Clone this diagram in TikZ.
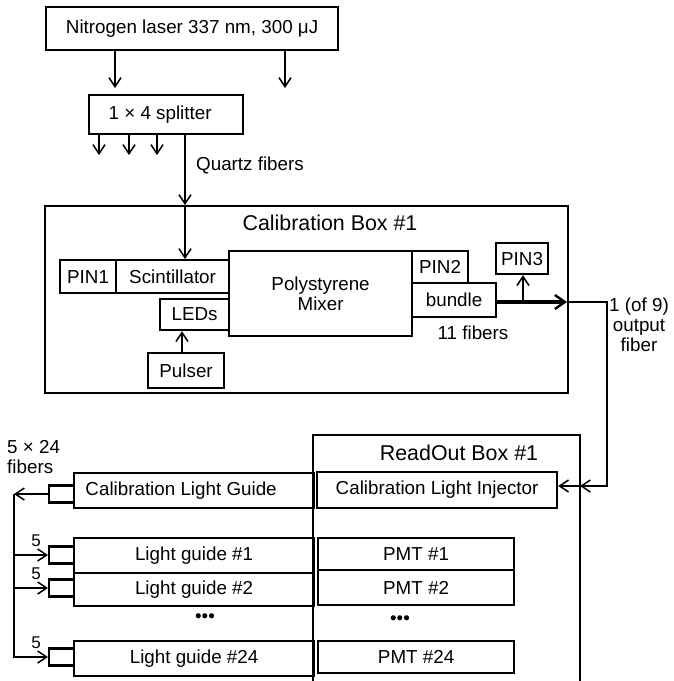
\documentclass[tikz,border=0pt]{standalone}
\usepackage{fontspec}
\setmainfont{Liberation Sans}
\usetikzlibrary{arrows.meta}
\begin{document}
\begin{tikzpicture}[x=1pt,y=-1pt,
  box/.style={draw,line width=2.2pt,inner sep=0pt,anchor=north west,font=\fontsize{18.8}{20}\selectfont},
  sbox/.style={draw,line width=2.2pt,inner sep=0pt,minimum width=25pt,minimum height=17pt,anchor=west},
  lbl/.style={inner sep=0pt,font=\fontsize{18.8}{20}\selectfont},
  slbl/.style={inner sep=0pt,font=\fontsize{17}{18}\selectfont},
  hdr/.style={inner sep=0pt,font=\fontsize{21.4}{24}\selectfont},
  tip/.style={-{Straight Barb[length=9pt,width=12pt,line width=1.5pt]}},
  arr/.style={line width=1.5pt,tip},
  ln/.style={line width=1.5pt}]
\useasboundingbox (0,0) rectangle (674,681);

% top
\node[box,minimum width=292pt,minimum height=43pt] (laser) at (45,6) {Nitrogen laser 337 nm, 300 μJ};
\node[box,minimum width=154pt,minimum height=39pt] (split) at (88,94) {1 × 4 splitter\hspace*{12pt}};

% calibration box
\node[box,minimum width=523pt,minimum height=187pt] (cal) at (44,205) {};
\node[hdr] (calt) at (330,223) {Calibration Box \#1};
\node[box,minimum width=56pt,minimum height=33pt] (pin1) at (59,259) {PIN1};
\node[box,minimum width=113pt,minimum height=33pt] (scint) at (115,259) {Scintillator};
\node[box,minimum width=183pt,minimum height=85pt,align=center] (mix) at (228,250) {Polystyrene\\Mixer};
\node[box,minimum width=69pt,minimum height=31pt] (leds) at (159,298) {LEDs};
\node[box,minimum width=76pt,minimum height=35pt] (pulser) at (147,352) {Pulser};
\node[box,minimum width=56pt,minimum height=32pt] (pin2) at (411,250) {PIN2};
\node[box,minimum width=84pt,minimum height=34pt] (bundle) at (411,282) {bundle};
\node[box,minimum width=52pt,minimum height=31pt] (pin3) at (495,242) {PIN3};
\node[lbl] (elf) at (473,333) {11 fibers};

% readout box
\coordinate (roBL) at (313,681);
\coordinate (roTL) at (313,435);
\coordinate (roTR) at (580,435);
\coordinate (roBR) at (580,681);
\draw[line width=2.2pt] (roBL) -- (roTL) -- (roTR) -- (roBR);
\node[hdr] (rot) at (459,453) {ReadOut Box \#1};
\node[box,minimum width=240pt,minimum height=36pt] (inj) at (316,471) {Calibration Light Injector};
\node[box,minimum width=196pt,minimum height=32pt] (pmt1) at (317,537) {PMT \#1};
\node[box,minimum width=196pt,minimum height=35pt] (pmt2) at (317,569) {PMT \#2};
\node[lbl] (dotsr) at (400,620) {•••};
\node[box,minimum width=196pt,minimum height=32pt] (pmt24) at (317,640) {PMT \#24};

% light guides
\node[box,minimum width=240pt,minimum height=35pt] (clg) at (73,472) {Calibration Light Guide\hspace*{26pt}};
\node[box,minimum width=240pt,minimum height=35pt] (lg1) at (73,537) {Light guide \#1};
\node[box,minimum width=240pt,minimum height=33pt] (lg2) at (73,572) {Light guide \#2};
\node[lbl] (dotsl) at (205,618) {•••};
\node[box,minimum width=240pt,minimum height=35pt] (lg24) at (73,640) {Light guide \#24};
\node[sbox] (cs0) at (48,494) {};
\node[sbox] (cs1) at (48,555) {};
\node[sbox] (cs2) at (48,588) {};
\node[sbox] (cs24) at (48,657) {};

% labels
\node[lbl,anchor=west] (qf) at (196,165) {Quartz fibers};
\node[lbl,align=center] (outl) at (639,325) {1 (of 9)\\output\\fiber};
\node[lbl,align=left,anchor=west] (fib) at (7,457) {5 × 24\\fibers};
\node[slbl] (n1) at (36,541) {5};
\node[slbl] (n2) at (36,574) {5};
\node[slbl] (n24) at (36,643) {5};

% connectors top
\coordinate (a1) at (115,88);
\coordinate (a2) at (285,88);
\draw[arr] (laser.south -| a1) -- (a1);
\draw[arr] (laser.south -| a2) -- (a2);
\foreach \x in {99,129,157} {
  \coordinate (s\x) at (\x,155);
  \draw[arr] (split.south -| s\x) -- (s\x);
}
\coordinate (q) at (185,0);
\draw[arr] (split.south -| q) -- (cal.north -| q);
\draw[arr] (cal.north -| q) -- (scint.north -| q);
\coordinate (pl) at (182,0);
\draw[arr] (pulser.north -| pl) -- (leds.south -| pl);

% bundle output
\coordinate (b0) at (495,302);
\coordinate (o1) at (567,302);
\draw[line width=3.2pt,-{Straight Barb[length=10pt,width=14pt,line width=2.4pt]}] (b0) -- (o1);
\coordinate (p3) at (523,302);
\draw[arr] (p3) -- (pin3.south -| p3);
\coordinate (o2) at (607,302);
\coordinate (o3) at (607,486);
\coordinate (rb) at (580,486);
\draw[arr] (o1) -- (o2) -- (o3) -- (rb);
\draw[arr] (rb) -- (inj.east |- rb);

% left fibers
\coordinate (v0) at (14,494);
\coordinate (v24) at (14,657);
\draw[arr] (cs0.west) -- (v0);
\draw[arr] (v0) -- (v24) -- (cs24.west);
\draw[arr] (v0 |- cs1.west) -- (cs1.west);
\draw[arr] (v0 |- cs2.west) -- (cs2.west);
\end{tikzpicture}
\end{document}
